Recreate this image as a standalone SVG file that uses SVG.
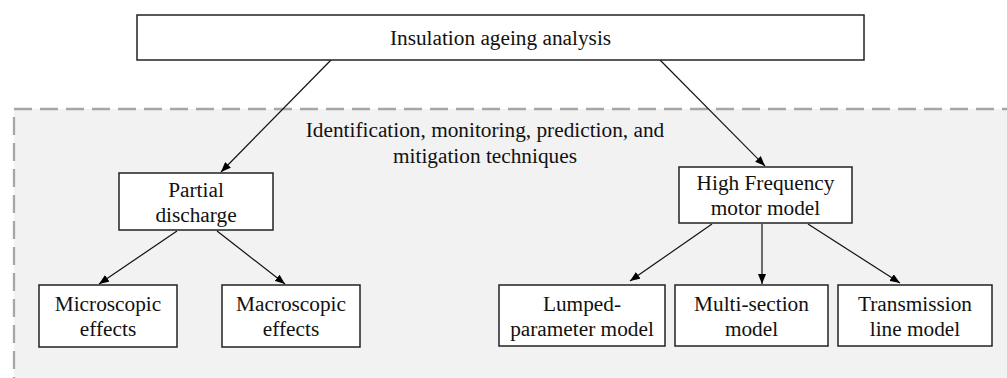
<svg xmlns="http://www.w3.org/2000/svg" width="1007" height="378" viewBox="0 0 1007 378">
  <defs>
    <marker id="ah" markerUnits="userSpaceOnUse" markerWidth="10" markerHeight="8" refX="10" refY="4" orient="auto">
      <path d="M0,0 L10,4 L0,8 z" fill="#000"/>
    </marker>
    <style>
      .box { fill: #ffffff; stroke: #222222; stroke-width: 1.5; }
      .t { font-family: "Liberation Serif", "Times New Roman", serif; font-size: 21.3px; fill: #111111; text-anchor: middle; }
      .c { stroke: #111111; stroke-width: 1.2; fill: none; marker-end: url(#ah); }
    </style>
  </defs>
  <rect x="0" y="0" width="1007" height="378" fill="#ffffff"/>
  <g id="region">
    <rect x="14" y="109" width="1010" height="290" fill="#f2f2f2" stroke="#a6a6a6" stroke-width="2.3" stroke-dasharray="18 8"/>
    <text class="t" x="485" y="137">Identification, monitoring, prediction, and</text>
    <text class="t" x="485" y="163">mitigation techniques</text>
  </g>
  <g id="connectors">
    <line class="c" x1="331" y1="60" x2="221" y2="172"/>
    <line class="c" x1="660" y1="60" x2="765" y2="166"/>
    <line class="c" x1="177" y1="231" x2="99" y2="284"/>
    <line class="c" x1="217" y1="231" x2="285" y2="284"/>
    <line class="c" x1="712" y1="224" x2="630" y2="281"/>
    <line class="c" x1="762" y1="224" x2="762" y2="284"/>
    <line class="c" x1="808" y1="224" x2="900" y2="283"/>
  </g>
  <g id="insulation">
    <rect class="box" x="137" y="15" width="727" height="45"/>
    <text class="t" x="500.5" y="45">Insulation ageing analysis</text>
  </g>
  <g id="partial">
    <rect class="box" x="119" y="173" width="154" height="57"/>
    <text class="t" x="196" y="197">Partial</text>
    <text class="t" x="196" y="222">discharge</text>
  </g>
  <g id="micro">
    <rect class="box" x="39" y="285" width="138" height="62"/>
    <text class="t" x="108" y="311">Microscopic</text>
    <text class="t" x="108" y="336">effects</text>
  </g>
  <g id="macro">
    <rect class="box" x="222" y="285" width="138" height="62"/>
    <text class="t" x="291" y="311">Macroscopic</text>
    <text class="t" x="291" y="336">effects</text>
  </g>
  <g id="hf">
    <rect class="box" x="679" y="167" width="173" height="56"/>
    <text class="t" x="765.5" y="190">High Frequency</text>
    <text class="t" x="765.5" y="215">motor model</text>
  </g>
  <g id="lumped">
    <rect class="box" x="499" y="285" width="166" height="61"/>
    <text class="t" x="582" y="311">Lumped-</text>
    <text class="t" x="582" y="336">parameter model</text>
  </g>
  <g id="multi">
    <rect class="box" x="675" y="285" width="153" height="61"/>
    <text class="t" x="751.5" y="311">Multi-section</text>
    <text class="t" x="751.5" y="336">model</text>
  </g>
  <g id="transmission">
    <rect class="box" x="838" y="285" width="154" height="61"/>
    <text class="t" x="915" y="311">Transmission</text>
    <text class="t" x="915" y="336">line model</text>
  </g>
</svg>
